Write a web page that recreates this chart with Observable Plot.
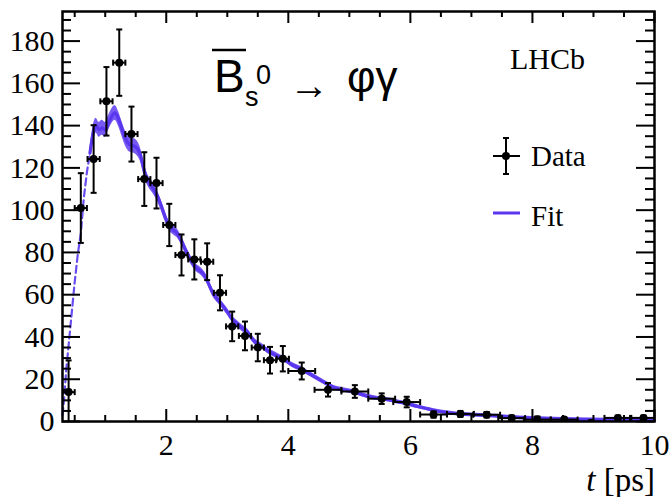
<!DOCTYPE html>
<html><head><meta charset="utf-8">
<script src="https://cdn.jsdelivr.net/npm/d3@7"></script>
<script src="https://cdn.jsdelivr.net/npm/@observablehq/plot@0.6"></script>
<style>
html,body{margin:0;padding:0;background:#fff;}
#wrap{position:relative;width:669px;height:497px;overflow:hidden;}
#wrap svg{position:absolute;left:0;top:0;}
</style></head><body><div id="wrap"></div>
<script>
// ---- data points (decay time t [ps], candidates per bin, uncertainty, half bin width)
const tData = [0.40,0.60,0.81,1.02,1.23,1.43,1.64,1.84,2.05,2.25,2.46,2.67,2.88,3.08,3.29,3.50,3.70,3.91,4.22,4.65,5.09,5.53,5.94,6.38,6.82,7.25,7.66,8.08,8.52,8.96,9.40,9.82];
const yData = [13.9,101,124.2,151.5,169.8,136,114.7,112.8,93,78.8,76.7,75.6,60.9,45,40.5,35,29,29.7,23.9,15,14.2,10.8,9.2,3.3,3.6,3.2,1.6,0.9,0.9,-0.6,1.7,1.7];
const yErr  = [15,16.5,16,16.2,15.7,13,12.7,12,10,9.7,9.5,8.7,8.3,7,6.8,6.5,6.3,6,4,3.2,3,2.5,2.5,1.5,1.4,1.3,1.2,1.5,1.1,1.1,1.1,1.1];
const xHalf = [0.1,0.1,0.1,0.1,0.1,0.1,0.1,0.1,0.1,0.1,0.1,0.1,0.1,0.1,0.1,0.1,0.1,0.1,0.22,0.22,0.22,0.22,0.22,0.22,0.22,0.22,0.22,0.22,0.22,0.22,0.22,0.22];

// ---- fit curve
const fitT = [0.30,0.33,0.36,0.40,0.45,0.50,0.55,0.60,0.65,0.70,0.75,0.80,0.85,0.90,0.95,1.00,1.05,1.10,1.16,1.22,1.28,1.33,1.40,1.46,1.53,1.58,1.62,1.67,1.72,1.78,1.85,1.92,1.98,2.05,2.12,2.18,2.25,2.32,2.40,2.48,2.57,2.65,2.72,2.78,2.85,2.92,3.00,3.08,3.17,3.25,3.33,3.40,3.48,3.57,3.66,3.75,3.85,3.95,4.05,4.20,4.35,4.53,4.65,4.75,4.90,5.08,5.30,5.45,5.63,5.80,5.95,6.10,6.28,6.50,6.75,7.00,7.30,7.60,8.00,8.50,9.00,9.50,10.00];
const fitY = [3,12,24,36,51,66,79,89,106,118,127,136,140,138,139,138,141,144,146,143,138,134,131,130.5,129,126,121,116,113,110.5,107,102,97,92.5,90.5,89,85.5,81,76.5,73,71,68,63.5,60,57.5,55,52,48.5,46,44,42.5,39.5,37,35.5,33.5,32,30.5,29,27,25,22.5,19.5,17.5,16,15,13.9,11.9,11,10.3,9.3,8.4,7.2,6,4.6,3.7,3.2,2.8,2.2,1.6,1.1,0.8,0.6,0.4];
const fitErr = [0,0,0,0,0,0,0,0,0,0,
  2.5,3.5,3.5,3.5,3.5,3.5,3.5,3.5,3.5,3.5,
  3.5,3.5,3.5,3.5,3.5,3.2,3,2.8,2.6,2.5,
  2.5,2.4,2.3,2.2,2.2,2.1,2,2,1.9,1.8,
  1.8,1.8,1.7,1.7,1.6,1.6,1.6,1.5,1.5,1.5,
  1.4,1.4,1.4,1.3,1.3,1.3,1.3,1.2,1.2,1.2,
  1.1,1.1,1.1,1,1,1,1,1,0.9,0.9,
  0.9,0.9,0.8,0.8,0.8,0.8,0.8,0.8,0.8,0.8,
  0.8,0.8,0.8];

// ---- axis ticks
const xLabels = [2,4,6,8,10];
const xMinor = [0.5,1,1.5,2.5,3,3.5,4.5,5,5.5,6.5,7,7.5,8.5,9,9.5];
const yLabels = [0,20,40,60,80,100,120,140,160,180];
const yMinor = [5,10,15,25,30,35,45,50,55,65,70,75,85,90,95,105,110,115,125,130,135,145,150,155,165,170,175,185,190];

const W = 669, H = 497, mL = 62, mR = 15, mT = 11, mB = 76;
const innerW = W - mL - mR, innerH = H - mT - mB;

const pts = tData.map((t, i) => ({t, y: yData[i], e: yErr[i], w: xHalf[i]}));
const fit = fitT.map((t, i) => ({t, y: fitY[i], e: fitErr[i]}));

const capH = {draw(ctx, size){const r = Math.sqrt(size/Math.PI); ctx.moveTo(-r,0); ctx.lineTo(r,0);}};
const capV = {draw(ctx, size){const r = Math.sqrt(size/Math.PI); ctx.moveTo(0,-r); ctx.lineTo(0,r);}};

const serif = "'Liberation Serif','Times New Roman',serif";
const purpleBand = "#6848f2", purpleLine = "#5a36ee";

const chart = Plot.plot({
  width: W, height: H,
  marginLeft: mL, marginRight: mR, marginTop: mT, marginBottom: mB,
  style: {fontFamily: serif, background: "white", color: "black"},
  x: {domain: [0.3, 10]},
  y: {domain: [0, 194]},
  marks: [
    Plot.areaY(fit.filter(d => d.e > 0), {x: "t", y1: d => d.y - d.e, y2: d => d.y + d.e, fill: purpleBand, fillOpacity: 0.9, curve: "monotone-x"}),
    Plot.line(fit.filter(d => d.t >= 0.75), {x: "t", y: "y", stroke: purpleLine, strokeWidth: 3.2, curve: "monotone-x"}),
    Plot.line(fit.filter(d => d.t <= 0.75), {x: "t", y: "y", stroke: "#6a4cf0", strokeWidth: 2.2, strokeDasharray: "7,4"}),
    Plot.ruleX(pts, {x: "t", y1: d => d.y - d.e, y2: d => d.y + d.e, stroke: "black", strokeWidth: 2, clip: true}),
    Plot.ruleY(pts, {y: "y", x1: d => d.t - d.w, x2: d => d.t + d.w, stroke: "black", strokeWidth: 2, clip: true}),
    Plot.dot(pts, {x: "t", y: d => d.y + d.e, symbol: capH, r: 3, stroke: "black", strokeWidth: 2, clip: true}),
    Plot.dot(pts, {x: "t", y: d => d.y - d.e, symbol: capH, r: 3, stroke: "black", strokeWidth: 2, clip: true}),
    Plot.dot(pts, {x: d => d.t - d.w, y: "y", symbol: capV, r: 3, stroke: "black", strokeWidth: 2, clip: true}),
    Plot.dot(pts, {x: d => d.t + d.w, y: "y", symbol: capV, r: 3, stroke: "black", strokeWidth: 2, clip: true}),
    Plot.dot(pts, {x: "t", y: "y", r: 4, fill: "black", stroke: "none", clip: true}),
    // inward ticks, bottom & top
    Plot.tickX(xLabels, {x: d => d, insetTop: innerH - 12, stroke: "black", strokeWidth: 2}),
    Plot.tickX(xMinor, {x: d => d, insetTop: innerH - 6, stroke: "black", strokeWidth: 2}),
    Plot.tickX(xLabels, {x: d => d, insetBottom: innerH - 12, stroke: "black", strokeWidth: 2}),
    Plot.tickX(xMinor, {x: d => d, insetBottom: innerH - 6, stroke: "black", strokeWidth: 2}),
    // inward ticks, left & right
    Plot.tickY(yLabels, {y: d => d, insetRight: innerW - 18, stroke: "black", strokeWidth: 2}),
    Plot.tickY(yMinor, {y: d => d, insetRight: innerW - 9, stroke: "black", strokeWidth: 2}),
    Plot.tickY(yLabels, {y: d => d, insetLeft: innerW - 18, stroke: "black", strokeWidth: 2}),
    Plot.tickY(yMinor, {y: d => d, insetLeft: innerW - 9, stroke: "black", strokeWidth: 2}),
    Plot.frame({stroke: "black", strokeWidth: 2.5}),
    Plot.axisX({ticks: xLabels, tickSize: 0, tickPadding: 12, fontSize: 30, label: null, fill: "black"}),
    Plot.axisY({ticks: yLabels, tickSize: 0, tickPadding: 8, fontSize: 30, label: null, fill: "black"})
  ]
});
const wrap = document.getElementById("wrap");
wrap.appendChild(chart);

// ---- annotations overlay (title, experiment label, legend, axis title)
const ov = d3.select(wrap).append("svg").attr("width", W).attr("height", H).style("pointer-events", "none");
const sans = "'Liberation Sans', Arial, sans-serif";
// title  B̄s0 → φγ
ov.append("text").attr("x", 214).attr("y", 92).attr("font-family", sans).attr("font-size", 46).text("B");
ov.append("line").attr("x1", 212).attr("x2", 246).attr("y1", 50).attr("y2", 50).attr("stroke", "black").attr("stroke-width", 2.5);
ov.append("text").attr("x", 245).attr("y", 106).attr("font-family", sans).attr("font-size", 27).text("s");
ov.append("text").attr("x", 256).attr("y", 84).attr("font-family", sans).attr("font-size", 27).text("0");
ov.append("text").attr("x", 289).attr("y", 99).attr("font-family", sans).attr("font-size", 40).text("→");
ov.append("text").attr("x", 347).attr("y", 92).attr("font-family", sans).attr("font-size", 44).text("φγ");
// LHCb
ov.append("text").attr("x", 510).attr("y", 69).attr("font-family", serif).attr("font-size", 30).text("LHCb");
// legend: Data
const lg = ov.append("g").attr("stroke", "black").attr("stroke-width", 2);
lg.append("line").attr("x1", 506).attr("x2", 506).attr("y1", 138).attr("y2", 174);
lg.append("line").attr("x1", 493).attr("x2", 520).attr("y1", 156).attr("y2", 156);
lg.append("line").attr("x1", 503).attr("x2", 509).attr("y1", 138).attr("y2", 138);
lg.append("line").attr("x1", 503).attr("x2", 509).attr("y1", 174).attr("y2", 174);
ov.append("circle").attr("cx", 506).attr("cy", 156).attr("r", 4).attr("fill", "black");
ov.append("text").attr("x", 531).attr("y", 166).attr("font-family", serif).attr("font-size", 29).text("Data");
// legend: Fit
ov.append("line").attr("x1", 493).attr("x2", 520).attr("y1", 213).attr("y2", 213).attr("stroke", purpleLine).attr("stroke-width", 3);
ov.append("text").attr("x", 531).attr("y", 226).attr("font-family", serif).attr("font-size", 29).text("Fit");
// x axis title
const xt = ov.append("text").attr("x", 655).attr("y", 491).attr("text-anchor", "end").attr("font-family", serif).attr("font-size", 33);
xt.append("tspan").attr("font-style", "italic").text("t");
xt.append("tspan").text(" [ps]");
</script></body></html>
